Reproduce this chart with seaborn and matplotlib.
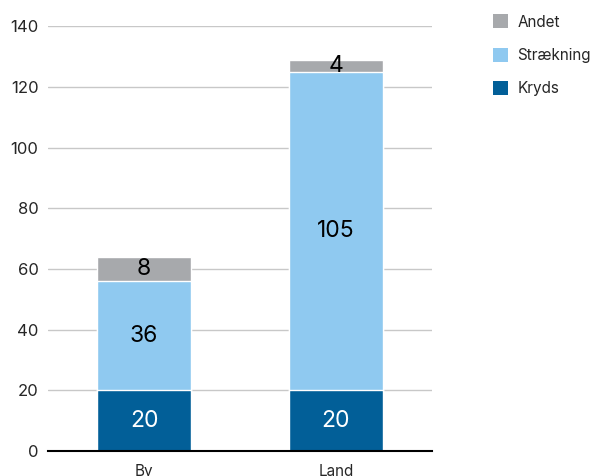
import matplotlib
matplotlib.use('Agg')
import matplotlib.pyplot as plt
from matplotlib.patches import Patch
import numpy as np
import pandas as pd
import seaborn as sns

categories = ["By", "Land"]
kryds = [20, 20]
straekning = [36, 105]
andet = [8, 4]
colors = {"Kryds": "#025f98", "Strækning": "#8fc9f0", "Andet": "#a7a9ac"}

sns.set_style("white")
plt.rcParams['font.family'] = ['Inter', 'DejaVu Sans']

df = pd.DataFrame({"kategori": categories, "Kryds": kryds,
                   "Strækning": straekning, "Andet": andet})
df["cum1"] = df["Kryds"]
df["cum2"] = df["cum1"] + df["Strækning"]
df["cum3"] = df["cum2"] + df["Andet"]

fig = plt.figure(figsize=(5.94, 4.76), dpi=100)
ax = fig.add_axes([0.081, 0.0525, 0.646, 0.8925])

# stack by drawing cumulative totals from the top down
for col, name in [("cum3", "Andet"), ("cum2", "Strækning"), ("cum1", "Kryds")]:
    sns.barplot(data=df, x="kategori", y=col, color=colors[name], width=0.49,
                edgecolor="white", linewidth=1, saturation=1, ax=ax, zorder=3)

for i in range(len(categories)):
    segs = [(0, df["cum1"][i], "Kryds", "white"),
            (df["cum1"][i], df["cum2"][i], "Strækning", "black"),
            (df["cum2"][i], df["cum3"][i], "Andet", "black")]
    for lo, hi, name, tc in segs:
        ax.text(i, (lo + hi) / 2, f"{df[name][i]}", ha='center', va='center',
                fontsize=16.5, color=tc, zorder=5)

ax.set_ylim(0, 140)
ax.set_xlim(-0.5, 1.5)
ax.set_yticks(np.arange(0, 141, 20))
ax.grid(True, axis='y', color='#c8c8c8', linewidth=1, zorder=0)
ax.set_axisbelow(True)
for s in ["top", "right", "left"]:
    ax.spines[s].set_visible(False)
ax.spines["bottom"].set_color("black")
ax.spines["bottom"].set_linewidth(1.5)
ax.spines["bottom"].set_zorder(6)
ax.tick_params(axis='y', length=0, labelsize=12, pad=7)
ax.tick_params(axis='x', length=0, labelsize=11, pad=9)
ax.set_xlabel("")
ax.set_ylabel("")

handles = [Patch(facecolor=colors[n], edgecolor='none', label=n)
           for n in ["Andet", "Strækning", "Kryds"]]
ax.legend(handles=handles, loc='upper left', bbox_to_anchor=(1.124, 1.06),
          frameon=False, fontsize=11, handlelength=1.0, handleheight=1.0,
          labelspacing=1.2, handletextpad=0.6)

fig.savefig("out.png", dpi=100)
